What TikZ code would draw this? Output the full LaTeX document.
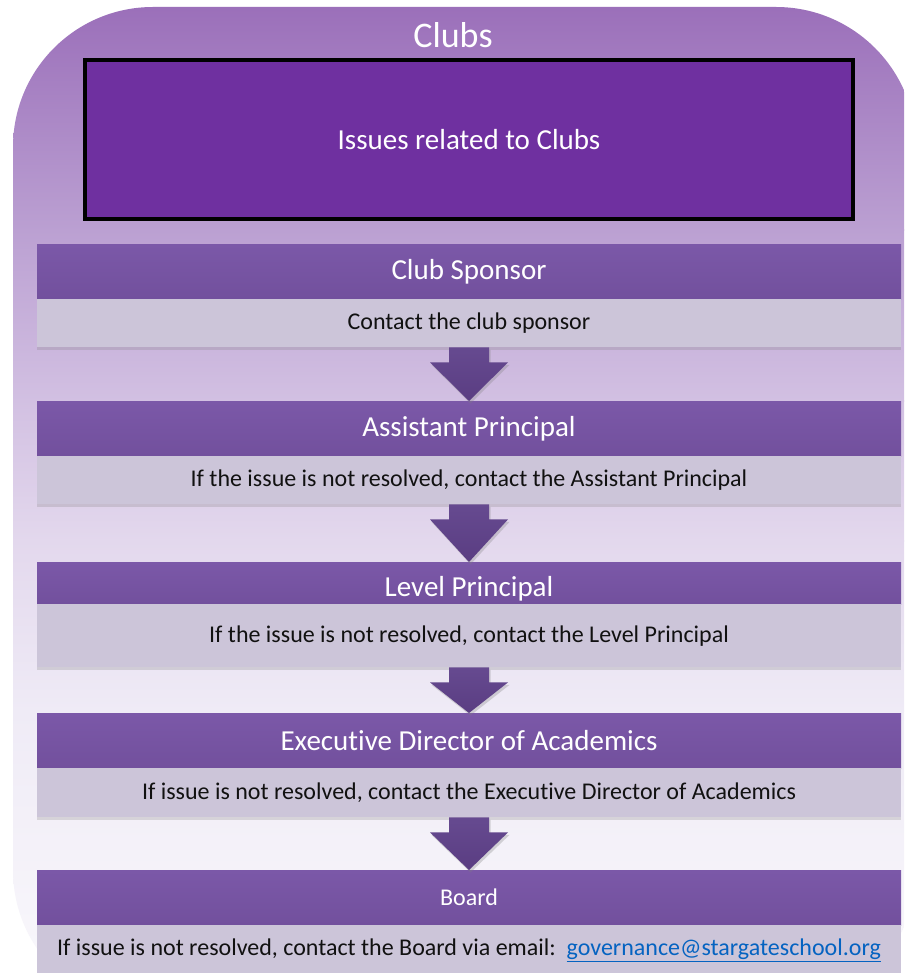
\documentclass[tikz,border=0pt]{standalone}
\usepackage{fontspec}
\setmainfont{Carlito}[RawFeature={-liga;-clig;-calt;-dlig}]
\usetikzlibrary{shadows,calc}
\definecolor{bgA}{HTML}{9A6EB9}
\definecolor{bgB}{HTML}{BBA0D2}
\definecolor{bgC}{HTML}{D2C0E2}
\definecolor{bgD}{HTML}{E3D8ED}
\definecolor{bgE}{HTML}{EFEBF6}
\definecolor{bgF}{HTML}{FAF9FC}
\definecolor{issuefill}{HTML}{6F30A0}
\definecolor{hdrtop}{HTML}{7B58A8}
\definecolor{hdrbot}{HTML}{72509D}
\definecolor{bodyfill}{HTML}{CCC5D9}
\definecolor{arrowtop}{HTML}{664A90}
\definecolor{arrowbot}{HTML}{5A3D82}
\definecolor{linkblue}{HTML}{0563C1}
\definecolor{bodytext}{HTML}{111111}
\newcommand\blockarrow[2]{%
  \path[blockarrowsty] ($(#1.south)+(-20,0)$) -- ($(#1.south)+(20,0)$)
    -- ($(#1.south)+(20,15)$) -- ($(#1.south)+(39,15)$) -- (#2.north)
    -- ($(#1.south)+(-39,15)$) -- ($(#1.south)+(-20,15)$) -- cycle;}
\begin{document}
\begin{tikzpicture}[x=1pt,y=-1pt,
  hdr/.style={minimum width=864pt, minimum height=55pt, inner sep=0pt,
    top color=hdrtop, bottom color=hdrbot, text=white,
    font=\fontsize{29}{35}\selectfont, anchor=north},
  bodybox/.style={minimum width=864pt, inner sep=0pt, fill=bodyfill,
    text=bodytext, font=\fontsize{24}{29}\selectfont, anchor=north,
    drop shadow={shadow xshift=0pt, shadow yshift=-3pt, opacity=0.25}},
  blockarrowsty/.style={top color=arrowtop, bottom color=arrowbot,
    drop shadow={shadow xshift=1.5pt, shadow yshift=-2.5pt, opacity=0.3}}
]
\useasboundingbox (0,0) rectangle (904,973);
\fill[white] (0,0) rectangle (904,973);
\begin{scope}
  \clip[rounded corners=140pt] (13,7) rectangle (916,1010);
  \shade[top color=bgA, bottom color=bgB] (0,0) rectangle (904,231);
  \shade[top color=bgB, bottom color=bgC] (0,230) rectangle (904,401);
  \shade[top color=bgC, bottom color=bgD] (0,400) rectangle (904,541);
  \shade[top color=bgD, bottom color=bgE] (0,540) rectangle (904,711);
  \shade[top color=bgE, bottom color=bgF] (0,710) rectangle (904,1010);
\end{scope}

\node[text=white, font=\fontsize{36}{43}\selectfont] (title) at (453,35) {Clubs};
\node[draw=black, line width=4pt, fill=issuefill, minimum width=768pt,
  minimum height=159pt, text=white, font=\fontsize{29}{35}\selectfont]
  (issues) at (469,140) {Issues related to Clubs};

\node[hdr] (h1) at (469,244) {Club Sponsor};
\node[bodybox, minimum height=48pt] (b1) at (469,299) {Contact the club sponsor};

\node[hdr] (h2) at (469,401) {Assistant Principal};
\node[bodybox, minimum height=48pt] (b2) at (469,456) {If the issue is not resolved, contact the Assistant Principal};

\node[hdr, minimum height=42pt, text height=32pt, text depth=6pt] (h3) at (469,562) {Level Principal};
\node[bodybox, minimum height=63pt] (b3) at (469,604) {If the issue is not resolved, contact the Level Principal};

\node[hdr] (h4) at (469,713) {Executive Director of Academics};
\node[bodybox, minimum height=49pt] (b4) at (469,768) {If issue is not resolved, contact the Executive Director of Academics};

\node[hdr, font=\fontsize{24}{29}\selectfont] (h5) at (469,870) {Board};
\node[bodybox, minimum height=50pt] (b5) at (469,925) {If issue is not resolved, contact the Board via email:\ \ {\color{linkblue}\underline{governance@stargateschool.org}}};

\blockarrow{b1}{h2}
\blockarrow{b2}{h3}
\blockarrow{b3}{h4}
\blockarrow{b4}{h5}
\end{tikzpicture}
\end{document}
